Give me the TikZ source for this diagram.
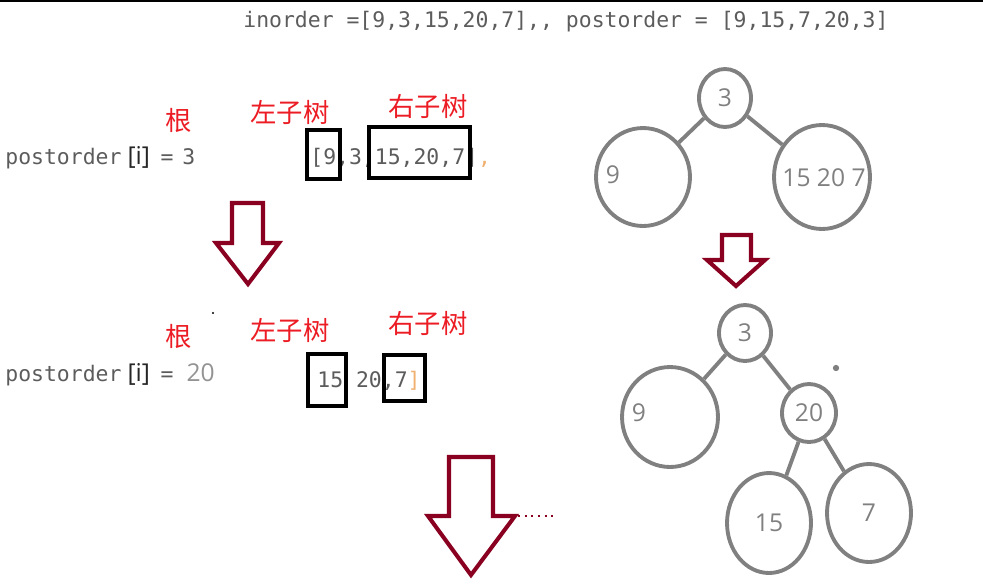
\documentclass[tikz,border=0pt]{standalone}
\usepackage{fontspec}
\setmonofont{DejaVu Sans Mono}
\setsansfont{Open Sans}
\newfontfamily\cjk{Noto Sans CJK SC}
\usetikzlibrary{shapes.geometric}
\definecolor{mDarkRed}{HTML}{8A0020}
\definecolor{mRed}{HTML}{EC1C24}
\definecolor{mGray}{HTML}{808080}
\definecolor{mText}{HTML}{5C5C5C}
\definecolor{mPeach}{HTML}{F0B070}

\begin{document}
\begin{tikzpicture}[x=0.02cm, y=-0.02cm,
      code/.style={font=\fontsize{12.2}{14}\selectfont\ttfamily, text=mText, inner sep=0, anchor=west},
      zh/.style={font=\fontsize{15}{18}\selectfont\cjk, text=mRed, inner sep=0},
      t/.style 2 args={ellipse, draw=mGray, line width=2.2pt, minimum width=#1*0.04cm, minimum height=#2*0.04cm, inner sep=0},
      num/.style={font=\fontsize{14}{16}\selectfont\sffamily, text=mGray, inner sep=0},
      hl/.style={draw=black, line width=2.3pt},
      big/.style={draw=mDarkRed, line width=2.3pt, line join=miter},
      edge/.style={draw=mGray, line width=2.2pt}]
    \useasboundingbox (0,0) rectangle (983,586);
    \draw[line width=1pt] (0,1) -- (983,1);
    \node[code] (title) at (243,22) {inorder =[9,3,15,20,7],, postorder = [9,15,7,20,3]};

    % step 1: root 3
    \node[code] (p1) at (5,158) {postorder\kern3.5pt{\fontsize{14}{16}\selectfont\sffamily\color{black!85}[i]}\kern6pt=\kern5pt3};
    \node[zh] (gen1)   at (179,120) {根};
    \node[zh] (left1)  at (290,112) {左子树};
    \node[zh] (right1) at (428,106) {右子树};
    \node[code] (seq1) at (310,158) {[9,3,15,20,7]{\color{mPeach},}};
    \draw[hl] (307,130) rectangle (340,179);
    \draw[hl] (369,127) rectangle (470,178);
    \draw[big] (232,203) -- (263,203) -- (263,243) -- (279,243) -- (248,284)
      -- (216,243) -- (232,243) -- cycle;

    % step 2: root 20
    \node[code] (p2) at (5,375) {postorder\kern3.5pt{\fontsize{14}{16}\selectfont\sffamily\color{black!85}[i]}\kern6pt=\kern7.5pt{\fontsize{14}{16}\selectfont\sffamily\color{mGray!85}20}};
    \node[zh] (gen2)   at (179,336) {根};
    \node[zh] (left2)  at (290,330) {左子树};
    \node[zh] (right2) at (428,323) {右子树};
    \node[code] (seq2) at (317,381) {15 20,7{\color{mPeach}]}};
    \draw[hl] (308,354) rectangle (346,406);
    \draw[hl] (384,355) rectangle (425,401);
    \fill (213,313) circle (0.6pt);
    \draw[big] (449,457) -- (493,457) -- (493,516) -- (515,516) -- (471,575)
      -- (428,516) -- (449,516) -- cycle;
    \draw[mDarkRed, line width=1.6pt, dash pattern=on 1.2pt off 2.6pt] (518,516) -- (555,516);

    % tree after step 1
    \node[t={26}{29}, num] (a3)  at (725,98)  {3};
    \node[t={47}{49}]      (a9)  at (643,177) {};
    \node[num]             (a9t) at (613,175) {9};
    \node[t={48}{52}]      (a15) at (822,177) {};
    \node[num]             (a15t) at (824,178) {15 20 7};
    \draw[edge] (a3) -- (a9);
    \draw[edge] (a3) -- (a15);
    \draw[big] (722,235) -- (751,235) -- (751,260) -- (765,260) -- (736,286)
      -- (707,260) -- (722,260) -- cycle;

    % tree after step 2
    \node[t={26}{28}, num] (b3)  at (745,333) {3};
    \node[t={48}{50}]      (b9)  at (670,417) {};
    \node[num]             (b9t) at (639,413) {9};
    \node[t={27}{29}, num] (b20) at (809,413) {20};
    \node[t={42}{50}, num] (b15) at (769,523) {15};
    \node[t={42}{49}, num] (b7)  at (869,513) {7};
    \draw[edge] (b3) -- (b9);
    \draw[edge] (b3) -- (b20);
    \draw[edge] (b20) -- (b15);
    \draw[edge] (b20) -- (b7);
    \fill[mGray] (836,368) circle (1.8pt);
  \end{tikzpicture}
\end{document}
